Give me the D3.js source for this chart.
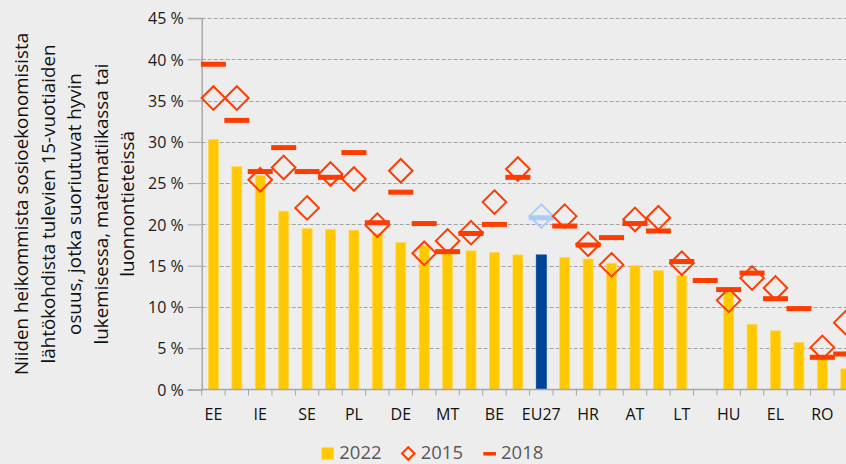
<!DOCTYPE html>
<html>
<head>
<meta charset="utf-8">
<script src="https://cdn.jsdelivr.net/npm/d3@7"></script>
<style>
  html, body { margin: 0; padding: 0; background: #EDEDED; }
  svg { display: block; }
</style>
</head>
<body>
<div id="chart"></div>
<script>
// ---- data ----
const categories = ["EE","FI","IE","DK","SE","SI","PL","CZ","DE","PT","MT","LV","BE","NL","EU27","ES","HR","IT","AT","FR","LT","LU","HU","SK","EL","CY","RO","BG"];
const labelShown = ["EE","IE","SE","PL","DE","MT","BE","EU27","HR","AT","LT","HU","EL","RO"];
const values2022 = [30.3,27.0,25.9,21.6,19.5,19.4,19.3,18.9,17.8,17.4,16.9,16.8,16.6,16.3,16.3,16.0,15.8,15.3,15.0,14.4,13.8,null,11.8,7.9,7.1,5.7,4.0,2.5];
const values2015 = [35.3,35.3,25.4,26.9,22.0,26.1,25.5,19.9,26.5,16.5,18.0,19.0,22.7,26.7,21.0,21.0,17.6,15.1,20.6,20.8,15.3,null,10.8,13.5,12.3,null,5.1,8.1];
const values2018 = [39.4,32.6,26.4,29.3,26.4,25.7,28.7,20.2,23.9,20.1,16.7,18.9,20.0,25.7,20.8,19.8,17.5,18.4,20.1,19.2,15.5,13.2,12.1,14.1,11.0,9.8,3.9,4.3];
const yTicks = [0,5,10,15,20,25,30,35,40,45];
const seriesNames = ["2022","2015","2018"];
const yTitleLines = [
  "Niiden heikommista sosioekonomisista",
  "lähtökohdista tulevien 15-vuotiaiden",
  "osuus, jotka suoriutuvat hyvin",
  "lukemisessa, matematiikassa tai",
  "luonnontieteissä"
];

// ---- layout ----
const W = 846, H = 464;
const FONT = "'Open Sans', 'Noto Sans', sans-serif";
const colBar = "#FFC800", colBarEdge = "#FFD95C", colEU = "#00449A";
const colRed = "#FF3C00", colEULight = "#A9CCFA";
const gridCol = "#A3A3A3", axisCol = "#A6A6A6";

const x0 = 201.7, step = 23.42;
const x = d3.scaleBand().domain(categories).range([x0, x0 + step * categories.length]).padding(0);
const y = d3.scaleLinear().domain([0, 45]).range([389.5, 18]);

const svg = d3.select("#chart").append("svg").attr("width", W).attr("height", H)
  .style("background", "#EDEDED");

// gridlines
svg.append("g").selectAll("line").data(yTicks.filter(d => d > 0)).join("line")
  .attr("x1", x0).attr("x2", W + 20)
  .attr("y1", d => Math.round(y(d)) + 0.5).attr("y2", d => Math.round(y(d)) + 0.5)
  .attr("stroke", gridCol).attr("stroke-width", 1.2).attr("stroke-dasharray", "4,2");

// y axis
const yAxis = d3.axisLeft(y).tickValues(yTicks).tickFormat(d => d + " %").tickSize(14).tickPadding(4);
const gy = svg.append("g").attr("transform", `translate(${x0},0)`).call(yAxis);
gy.select(".domain").attr("stroke", axisCol).attr("stroke-width", 1.5);
gy.selectAll(".tick line").attr("stroke", axisCol).attr("stroke-width", 1);
gy.selectAll(".tick text").attr("font-family", FONT).attr("font-size", 16).attr("fill", "#1a1a1a").attr("dy", "0.36em");

// bars
const idx = categories.map((c, i) => i);
const bw = x.bandwidth() * 0.427;
svg.append("g").selectAll("rect").data(idx.filter(i => values2022[i] != null)).join("rect")
  .attr("x", i => x(categories[i]) + x.bandwidth() / 2 - bw / 2)
  .attr("width", bw)
  .attr("y", i => y(values2022[i]))
  .attr("height", i => y(0) - y(values2022[i]))
  .attr("fill", i => categories[i] === "EU27" ? colEU : colBar)
  .attr("stroke", i => categories[i] === "EU27" ? colEU : colBarEdge)
  .attr("stroke-width", 0.8);

// x axis line & ticks
svg.append("line").attr("x1", x0).attr("x2", W + 20).attr("y1", y(0)).attr("y2", y(0))
  .attr("stroke", axisCol).attr("stroke-width", 1.5);
svg.append("g").selectAll("line").data(categories).join("line")
  .attr("x1", d => x(d)).attr("x2", d => x(d))
  .attr("y1", y(0)).attr("y2", y(0) + 6)
  .attr("stroke", axisCol).attr("stroke-width", 1);
svg.append("g").selectAll("text").data(categories.filter(c => labelShown.includes(c))).join("text")
  .attr("x", d => x(d) + x.bandwidth() / 2).attr("y", 420)
  .attr("text-anchor", "middle").attr("font-family", FONT).attr("font-size", 16).attr("fill", "#111")
  .text(d => d);

// 2018 dashes
const dw = 25, dh = 5;
svg.append("g").selectAll("rect").data(idx.filter(i => values2018[i] != null)).join("rect")
  .attr("x", i => x(categories[i]) + x.bandwidth() / 2 - dw / 2)
  .attr("y", i => y(values2018[i]) - dh / 2)
  .attr("width", dw).attr("height", dh)
  .attr("fill", i => categories[i] === "EU27" ? colEULight : colRed);

// 2015 diamonds
const dr = 11.8;
const diamond = (cx, cy, r) => `M${cx},${cy - r}L${cx + r},${cy}L${cx},${cy + r}L${cx - r},${cy}Z`;
svg.append("g").selectAll("path").data(idx.filter(i => values2015[i] != null)).join("path")
  .attr("d", i => diamond(x(categories[i]) + x.bandwidth() / 2, y(values2015[i]), dr))
  .attr("fill", "none")
  .attr("stroke", i => categories[i] === "EU27" ? colEULight : colRed)
  .attr("stroke-width", 2);

// y title
const yt = svg.append("g").attr("transform", "translate(0,204)");
const baselines = [28, 54.5, 81, 107.5, 134];
yTitleLines.forEach((t, k) => {
  yt.append("text").attr("transform", `translate(${baselines[k]},0) rotate(-90)`)
    .attr("text-anchor", "middle").attr("font-family", FONT).attr("font-size", 18.8)
    .attr("fill", "#111").text(t);
});

// legend
const lg = svg.append("g");
const legFont = 18.5, legBase = 458.8;
lg.append("rect").attr("x", 321.7).attr("y", 447.5).attr("width", 12).attr("height", 12).attr("fill", colBar);
lg.append("text").attr("x", 339.3).attr("y", legBase).attr("font-family", FONT).attr("font-size", legFont).attr("fill", "#595959").text(seriesNames[0]);
lg.append("path").attr("d", diamond(408.3, 453.5, 6.3)).attr("fill", "none").attr("stroke", colRed).attr("stroke-width", 2);
lg.append("text").attr("x", 420.7).attr("y", legBase).attr("font-family", FONT).attr("font-size", legFont).attr("fill", "#595959").text(seriesNames[1]);
lg.append("rect").attr("x", 483.3).attr("y", 452).attr("width", 12.7).attr("height", 3.5).attr("fill", colRed);
lg.append("text").attr("x", 501).attr("y", legBase).attr("font-family", FONT).attr("font-size", legFont).attr("fill", "#595959").text(seriesNames[2]);
</script>
</body>
</html>
